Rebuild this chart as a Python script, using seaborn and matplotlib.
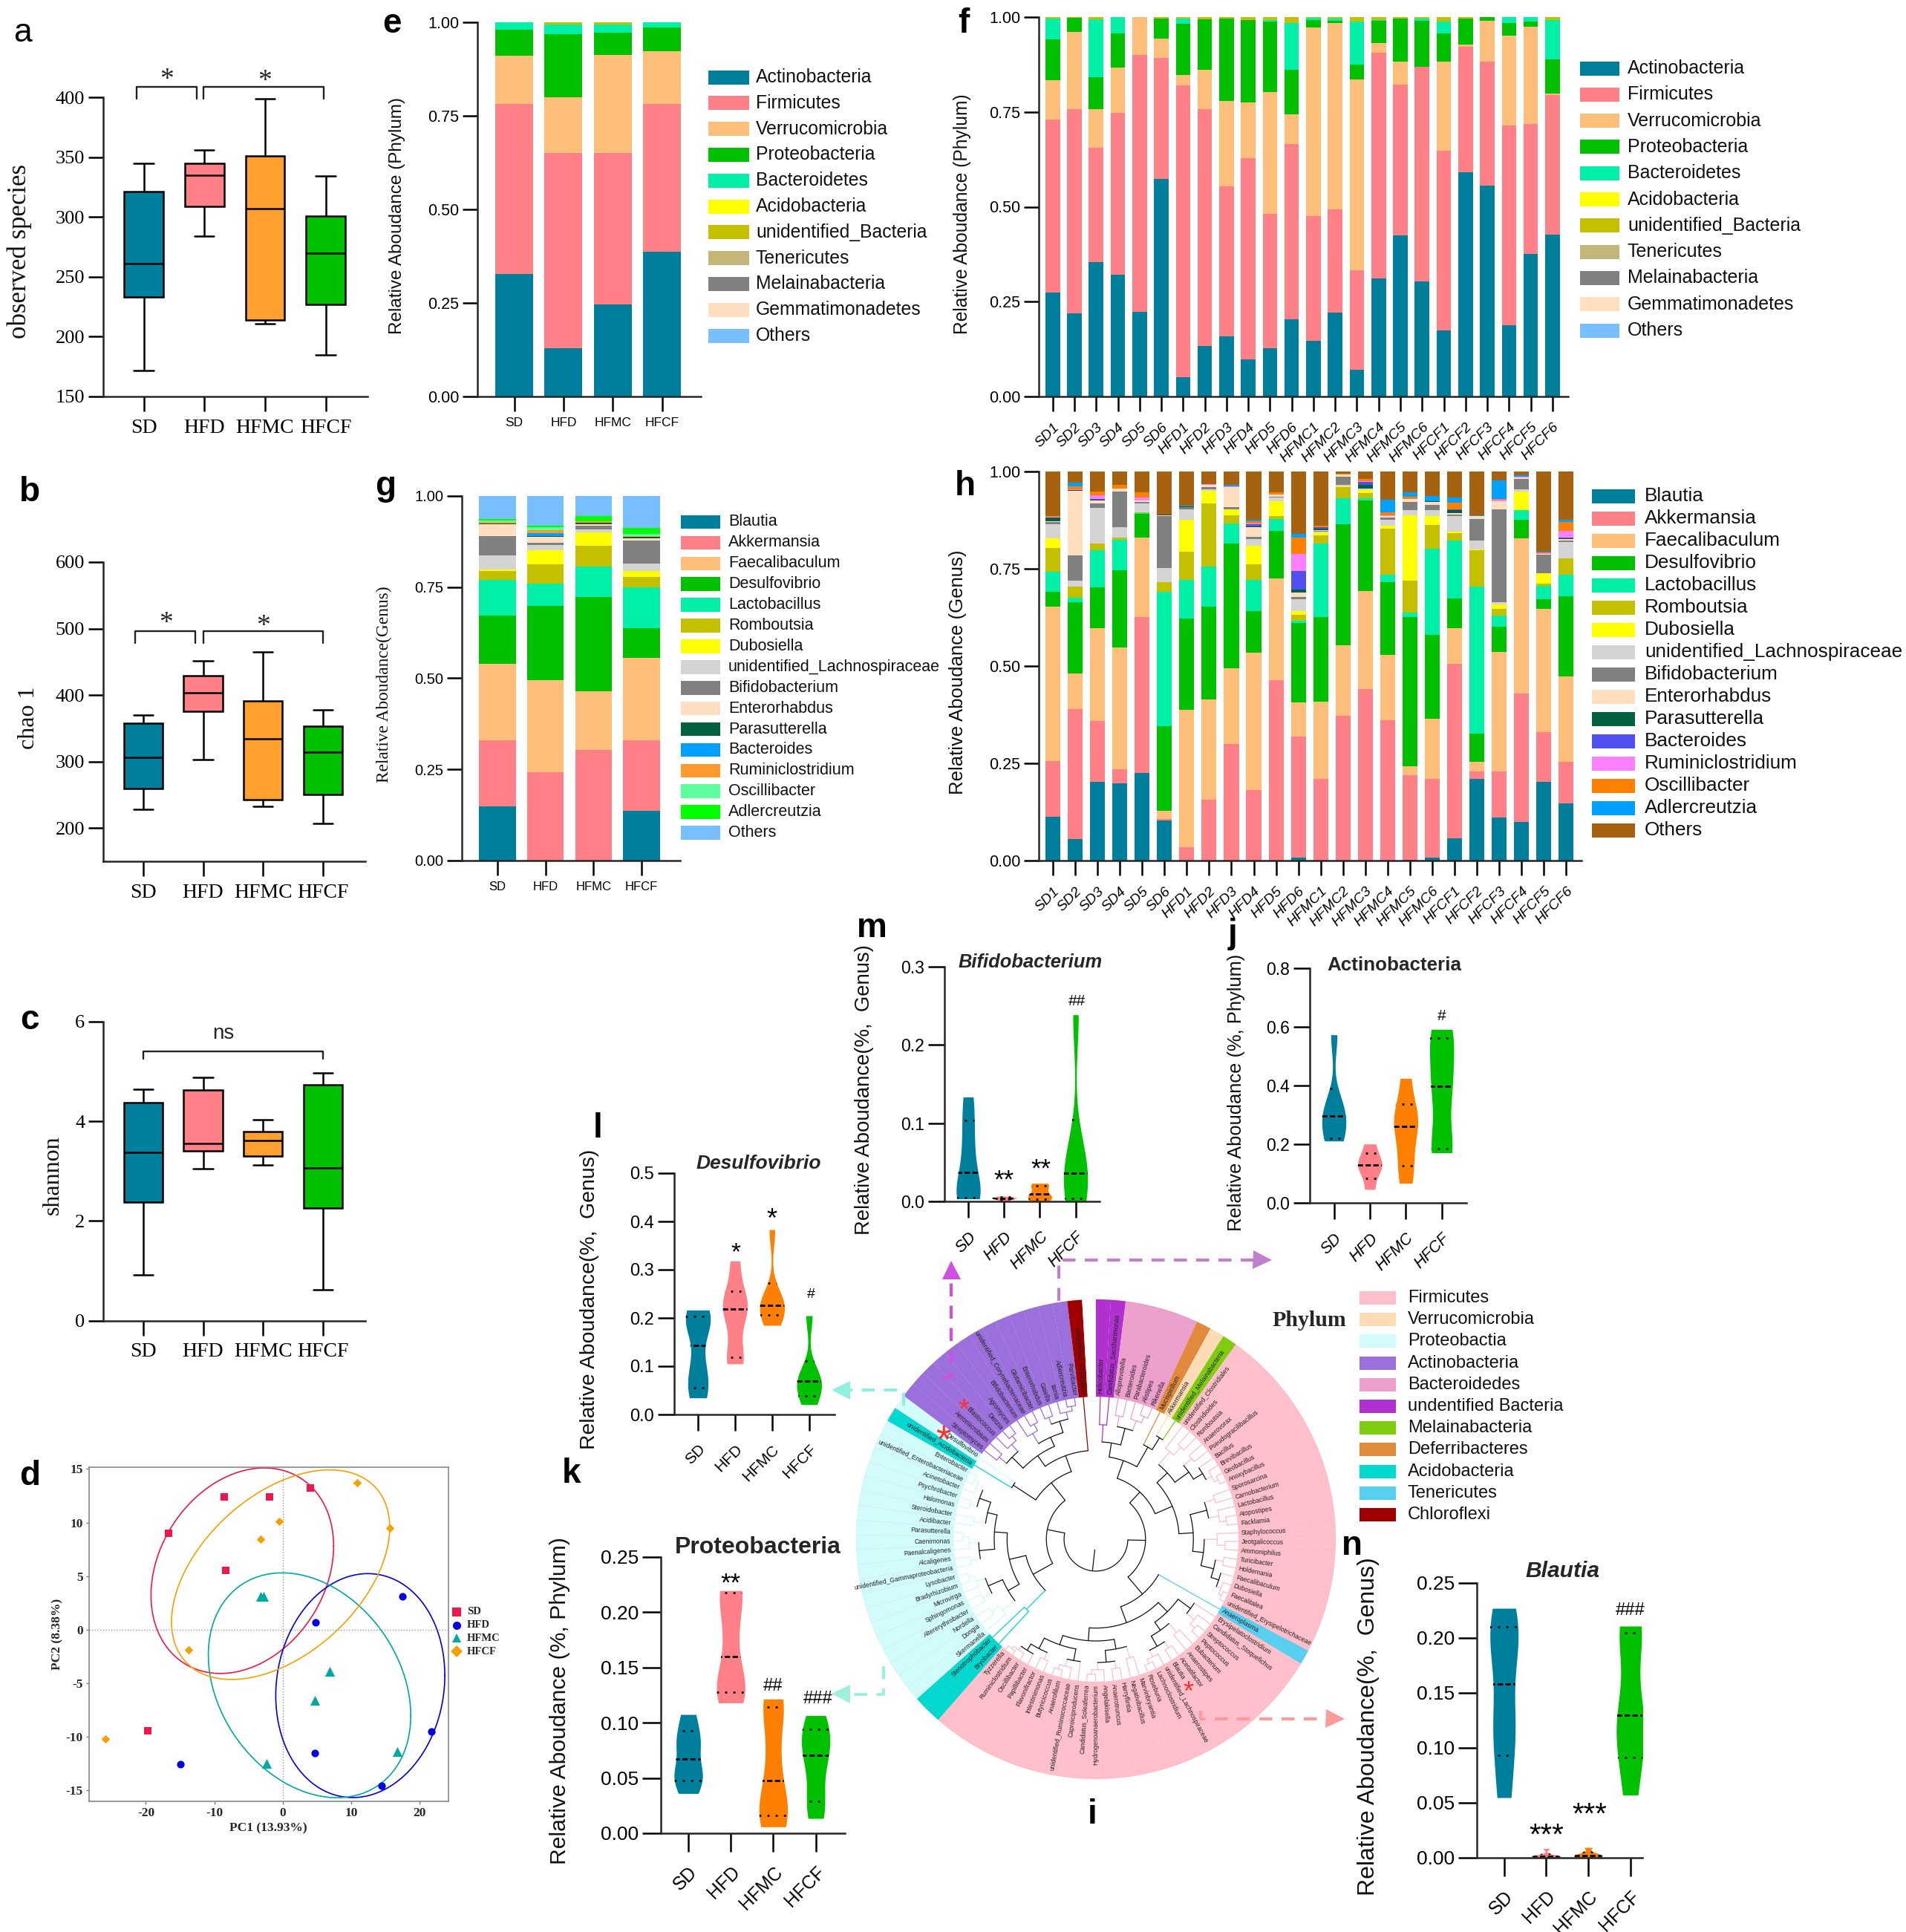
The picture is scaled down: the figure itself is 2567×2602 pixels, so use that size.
import numpy as np
import pandas as pd
import matplotlib
matplotlib.use("Agg")
import matplotlib.pyplot as plt
from matplotlib.patches import Rectangle
import seaborn as sns

W, H = 2567, 2602
DPI = 100
SANS = "Liberation Sans"
SERIF = "Liberation Serif"

groups = ["SD", "HFD", "HFMC", "HFCF"]
samples_f = ["SD1", "SD2", "SD3", "SD4", "SD5", "SD6", "HFD1", "HFD2", "HFD3", "HFD4", "HFD5", "HFD6",
             "HFMC1", "HFMC2", "HFMC3", "HFMC4", "HFMC5", "HFMC6", "HFCF1", "HFCF2", "HFCF3", "HFCF4", "HFCF5", "HFCF6"]

box_colors = ["#007f9d", "#ff8086", "#ffa030", "#00c000"]
violin_colors = ["#007f9d", "#ff8086", "#ff8000", "#00c000"]

# box plots: min, q1, median, q3, max
a_sd = [172, 233, 261, 321, 345]
a_hfd = [284, 309, 335, 345, 356]
a_hfmc = [211, 214, 307, 351, 399]
a_hfcf = [185, 227, 270, 301, 334]

b_sd = [228, 259, 306, 358, 370]
b_hfd = [303, 376, 403, 429, 451]
b_hfmc = [233, 243, 334, 391, 465]
b_hfcf = [207, 250, 314, 353, 378]

c_sd = [0.92, 2.38, 3.38, 4.37, 4.65]
c_hfd = [3.05, 3.40, 3.55, 4.63, 4.88]
c_hfmc = [3.13, 3.30, 3.62, 3.80, 4.03]
c_hfcf = [0.62, 2.26, 3.07, 4.73, 4.97]

# PCoA points
d_x_sd = [-16.7, -8.5, -1.9, 4.0, -8.3, -19.7]
d_y_sd = [9.0, 12.4, 12.4, 13.2, 5.55, -9.45]
d_x_hfd = [17.5, 4.8, 21.8, 4.75, -15.0, 14.5]
d_y_hfd = [3.1, 0.65, -9.5, -11.5, -12.6, -14.6]
d_x_hfmc = [-3.2, -2.8, 6.9, 4.65, 16.8, -2.3]
d_y_hfmc = [3.1, 3.1, -3.9, -6.6, -11.4, -12.5]
d_x_hfcf = [10.9, 15.7, -0.5, -3.2, -13.8, -25.9]
d_y_hfcf = [13.7, 9.5, 10.1, 8.45, -1.9, -10.2]
d_colors = ["#f0174e", "#0000e0", "#00a99d", "#f9a000"]
d_markers = ["s", "o", "^", "D"]
d_sizes = [54, 54, 90, 34]
# ellipses: centre x, centre y, half width, half height, correlation
d_ell_sd = [-5.9, 5.5, 13.35, 9.6, 0.24]
d_ell_hfd = [11.35, -5.23, 12.36, 10.46, 0.09]
d_ell_hfmc = [3.93, -5.2, 14.8, 10.5, -0.27]
d_ell_hfcf = [-0.3, 5.13, 15.95, 9.79, 0.45]

# stacked bars: each list is the top edge of that layer
e_act = [0.327, 0.128, 0.246, 0.386]
e_fir = [0.782, 0.651, 0.650, 0.781]
e_ver = [0.911, 0.800, 0.913, 0.922]
e_pro = [0.981, 0.969, 0.973, 0.986]
e_bac = [1.0, 0.995, 0.995, 1.0]
e_uni = [1.0, 1.0, 1.0, 1.0]

f_act = [.274, .219, .355, .321, .223, .573, .051, .134, .159, .097, .127, .203, .147, .221, .071, .311, .424, .304, .174, .591, .556, .188, .376, .426]
f_fir = [.730, .758, .656, .747, .901, .893, .819, .758, .554, .628, .481, .666, .476, .494, .332, .906, .821, .869, .648, .921, .883, .714, .718, .795]
f_ver = [.833, .961, .757, .867, 1.0, .944, .848, .861, .778, .774, .802, .744, .972, .984, .835, .931, .882, .869, .883, .927, .990, .952, .974, .798]
f_pro = [.942, .998, .841, .957, 1.0, .996, .982, .995, .997, .993, .989, .862, .993, .991, .874, .990, .997, .991, .957, .997, 1.0, .985, .989, .889]
f_bac = [.997, .998, .994, 1.0, 1.0, .997, .996, .995, .997, .993, .992, .985, .998, .997, .989, .992, .997, .996, .988, .997, 1.0, 1.0, 1.0, .993]
f_uni = [1.0] * 24

g_bla = [.149, 0, 0, .136]
g_akk = [.329, .242, .304, .330]
g_fae = [.540, .494, .464, .556]
g_des = [.672, .699, .724, .638]
g_lac = [.770, .760, .807, .750]
g_rom = [.794, .813, .864, .778]
g_dub = [.799, .851, .900, .794]
g_uni = [.837, .866, .909, .814]
g_bif = [.890, .871, .919, .877]
g_ent = [.922, .888, .923, .884]
g_par = [.924, .890, .927, .887]
g_bac = [.924, .898, .927, .887]
g_rum = [.929, .907, .930, .891]
g_osc = [.932, .915, .931, .897]
g_adl = [.937, .918, .944, .912]
g_oth = [1.0, 1.0, 1.0, 1.0]

h_bla = [.112, .055, .202, .199, .225, .103, 0, 0, 0, 0, 0, .008, 0, 0, 0, 0, .002, .008, .057, .209, .111, .099, .202, .146]
h_akk = [.256, .389, .359, .235, .626, .106, .034, .156, .300, .181, .463, .318, .210, .372, .441, .361, .219, .210, .506, .229, .229, .429, .331, .253]
h_fae = [.653, .481, .597, .548, .830, .127, .388, .415, .495, .535, .726, .407, .409, .554, .693, .529, .243, .364, .598, .253, .536, .829, .647, .474]
h_des = [.691, .664, .702, .747, .891, .345, .623, .652, .814, .642, .848, .610, .626, .865, .926, .715, .626, .581, .673, .326, .601, .875, .671, .679]
h_lac = [.742, .675, .798, .825, .894, .690, .722, .756, .866, .721, .877, .617, .815, .931, .931, .735, .638, .801, .822, .705, .630, .900, .707, .735]
h_rom = [.804, .705, .814, .831, .895, .715, .793, .918, .888, .762, .886, .632, .835, .959, .945, .854, .719, .863, .842, .798, .646, .901, .711, .776]
h_dub = [.829, .705, .815, .831, .895, .715, .876, .950, .903, .809, .924, .642, .844, .962, .952, .860, .888, .885, .845, .799, .658, .948, .739, .777]
h_uni = [.865, .720, .907, .856, .918, .752, .903, .954, .903, .827, .934, .672, .846, .966, .957, .875, .900, .901, .885, .823, .665, .954, .739, .818]
h_bif = [.871, .784, .918, .948, .921, .885, .909, .959, .909, .832, .935, .677, .848, .986, .957, .881, .922, .915, .889, .877, .903, .980, .786, .823]
h_ent = [.872, .951, .925, .956, .925, .887, .909, .966, .960, .857, .940, .688, .850, .992, .957, .886, .929, .921, .893, .885, .923, .984, .789, .827]
h_par = [.881, .952, .927, .956, .925, .889, .911, .966, .960, .859, .940, .697, .854, .992, .966, .886, .929, .923, .901, .886, .923, .984, .789, .829]
h_bac = [.881, .952, .930, .956, .925, .889, .911, .966, .960, .864, .940, .744, .856, .992, .973, .886, .929, .923, .903, .886, .924, .985, .789, .831]
h_rum = [.884, .955, .939, .957, .933, .890, .911, .967, .961, .866, .941, .788, .857, .992, .975, .888, .930, .923, .903, .886, .928, .986, .790, .848]
h_osc = [.885, .961, .948, .965, .946, .890, .911, .967, .961, .872, .946, .830, .860, .995, .980, .895, .935, .924, .920, .886, .929, .986, .792, .871]
h_adl = [.886, .971, .949, .965, .947, .890, .912, .967, .965, .875, .947, .839, .860, .995, .980, .928, .947, .937, .934, .887, .978, .990, .794, .876]
h_oth = [1.0] * 24

phylum_names = ["Actinobacteria", "Firmicutes", "Verrucomicrobia", "Proteobacteria", "Bacteroidetes", "Acidobacteria",
                "unidentified_Bacteria", "Tenericutes", "Melainabacteria", "Gemmatimonadetes", "Others"]
phylum_colors = ["#007f9d", "#ff8086", "#ffbf7a", "#00c000", "#00f0a8", "#ffff00", "#c4c000", "#c4b678", "#808080", "#ffdfc0", "#78bfff"]
genus_names = ["Blautia", "Akkermansia", "Faecalibaculum", "Desulfovibrio", "Lactobacillus", "Romboutsia", "Dubosiella",
               "unidentified_Lachnospiraceae", "Bifidobacterium", "Enterorhabdus", "Parasutterella", "Bacteroides",
               "Ruminiclostridium", "Oscillibacter", "Adlercreutzia", "Others"]
genus_colors_g = ["#007f9d", "#ff8086", "#ffbf7a", "#00c000", "#00f0a8", "#c4c000", "#ffff00", "#d4d4d4", "#808080", "#ffdfc0",
                  "#006040", "#00a0ff", "#ff9a2e", "#5cff9c", "#00ff00", "#78bfff"]
genus_colors_h = ["#007f9d", "#ff8086", "#ffbf7a", "#00c000", "#00f0a8", "#c4c000", "#ffff00", "#d4d4d4", "#808080", "#ffdfc0",
                  "#006040", "#5050f0", "#ff80ff", "#ff8000", "#00a0ff", "#a6620e"]

# violins: six samples per group
k_sd = [.036, .0515, .056, .078, .0876, .1075]
k_hfd = [.118, .1313, .14, .18, .2175, .2196]
k_hfmc = [.0058, .0197, .0276, .0676, .112, .1215]
k_hfcf = [.0134, .0342, .062, .0786, .0897, .1065]

l_sd = [.0344, .0617, .1026, .1826, .198, .2164]
l_hfd = [.105, .1223, .21, .228, .2353, .318]
l_hfmc = [.1846, .2141, .22, .2312, .235, .383]
l_hfcf = [.0205, .0445, .06, .0774, .08, .2046]

n_sd = [.0545, .1056, .13, .1854, .2044, .2268]
n_hfd = [0, .0002, .0008, .0012, .002, .0083]
n_hfmc = [0, .0003, .0014, .0026, .004, .0092]
n_hfcf = [.0568, .1021, .115, .144, .2024, .2106]

m_sd = [.0032, .005, .02, .0546, .0935, .1335]
m_hfd = [0, .0024, .0034, .0042, .005, .0066]
m_hfmc = [0, .0043, .0065, .0125, .0193, .0231]
m_hfcf = [.0006, .0053, .03, .0422, .06, .2386]

j_sd = [.2107, .222, .28, .31, .33, .5724]
j_hfd = [.0455, .0949, .12, .138, .1602, .2006]
j_hfmc = [.0666, .1463, .23, .291, .3083, .424]
j_hfcf = [.1703, .1883, .36, .436, .5515, .591]

# circular tree leaves, clockwise from the top gap
tree_unident = ["Helicobacter", "Candidatus_Saccharimonas"]
tree_bacteroidedes = ["Alloprevotella", "Bacteroides", "Parabacteroides", "Alistipes", "Rikenella"]
tree_deferri = ["Mucispirillum"]
tree_verruco = ["Akkermansia"]
tree_melaina = ["unidentified_Melainabacteria"]
tree_firm_a = ["unidentified_Clostridiales", "Clostridioides", "Romboutsia", "Anaerovorax", "Pseudogracilibacillus", "Bacillus",
               "Brevibacillus", "Geobacillus", "Anoxybacillus", "Sporosarcina", "Carnobacterium", "Lactobacillus", "Atopostipes",
               "Facklamia", "Staphylococcus", "Jeotgalicoccus", "Ammoniphilus", "Turicibacter", "Holdemania", "Faecalibaculum",
               "Dubosiella", "Faecalitalea", "unidentified_Erysipelotrichaceae"]
tree_teneri = ["Anaeroplasma"]
tree_firm_b = ["Erysipelatoclostridium", "Candidatus_Stoquefichus", "Streptococcus", "Peptococcus", "Eubacterium", "Anaerostipes",
               "Acetatifactor", "Blautia", "unidentified_Lachnospiraceae", "Lachnoclostridium", "Roseburia", "Marvinbryantia",
               "Negativibacillus", "Harryflintia", "Anaerotruncus", "Angelakisella", "Hydrogenoanaerobacterium",
               "Candidatus_Soleaferrea", "Caproiciproducens", "unidentified_Ruminococcaceae", "Anaerofilum", "Butyricicoccus",
               "Intestinimonas", "Flavonifractor", "Papillibacter", "Oscillibacter", "Ruminiclostridium", "Tyzzerella"]
tree_acido_a = ["Bryobacter", "Stenotrophobacter"]
tree_proteo_a = ["Skermanella", "Dongia", "Nordella", "Altererythrobacter", "Sphingomonas", "Microvirga", "Bradyrhizobium", "Lysobacter",
                 "unidentified_Gammaproteobacteria", "Alcaligenes", "Paenalcaligenes", "Caenimonas", "Parasutterella", "Acidibacter",
                 "Steroidobacter", "Halomonas", "Psychrobacter", "Acinetobacter", "unidentified_Enterobacteriaceae", "Enterobacter"]
tree_acido_b = ["unidentified_Acidobacteria"]
tree_proteo_b = ["Desulfovibrio"]
tree_actino = ["Streptomyces", "Aeromicrobium", "Blastococcus", "Dietzia", "Agromyces", "Bifidobacterium",
               "unidentified_Corynebacteriaceae", "Glutamicibacter", "Enterorhabdus", "Gaiella", "Iamia", "Adlercreutzia", "Parvibacter"]
tree_chloro = ["unidentified_Chloroflexi"]
# red stars: leaf they sit by, radius in the ring, font size
tree_star_leaves = ["Blastococcus", "Desulfovibrio", "Blautia"]
tree_star_radius = [0.79, 0.775, 0.725]
tree_star_size = [28, 38, 26]

tree_legend = ["Firmicutes", "Verrucomicrobia", "Proteobactia", "Actinobacteria", "Bacteroidedes", "undentified Bacteria",
               "Melainabacteria", "Deferribacteres", "Acidobacteria", "Tenericutes", "Chloroflexi"]
tree_colors = ["#ffc0cb", "#fddcb5", "#d2fbfb", "#9c70dc", "#eea0cc", "#b030d0", "#80cc10", "#e28a3c", "#00d8d0", "#58cfee", "#a00000"]

sns.set_theme(style="ticks")
plt.rcParams["font.family"] = [SANS, "DejaVu Sans"]
plt.rcParams["axes.linewidth"] = 1.8

fig = plt.figure(figsize=(W / DPI, H / DPI), dpi=DPI, facecolor="white")
ov = fig.add_axes([0, 0, 1, 1], zorder=10)
ov.set_xlim(0, W)
ov.set_ylim(H, 0)
ov.axis("off")


def px_axes(left, top, right, bottom):
    ax = fig.add_axes([left / W, 1 - bottom / H, (right - left) / W, (bottom - top) / H])
    ax.patch.set_alpha(0)
    return ax


def finish_axes(ax, left, right, first, step, ylim, yticks, yfmt, yfont, ysize, tick_px=20):
    ax.set_xlim((left - first) / step, (right - first) / step)
    ax.set_ylim(*ylim)
    ax.set_yticks(yticks)
    ax.set_yticklabels([yfmt.format(v) for v in yticks], fontsize=ysize, family=yfont)
    ax.set_xlabel("")
    ax.set_ylabel("")
    sns.despine(ax=ax)
    ax.tick_params(axis="both", length=tick_px * 0.72, width=1.8, color="black", labelcolor="black")


def long_form(arrays):
    rows = [(g, v) for g, vals in zip(groups, arrays) for v in vals]
    return pd.DataFrame(rows, columns=["group", "value"])


def box_panel(rect, first, step, arrays, ylim, yticks):
    left, top, right, bottom = rect
    ax = px_axes(*rect)
    sns.boxplot(data=long_form(arrays), x="group", y="value", hue="group", palette=box_colors, saturation=1,
                width=0.645, whis=(0, 100), linecolor="black", linewidth=1.8, fliersize=0, legend=False, ax=ax)
    finish_axes(ax, left, right, first, step, ylim, yticks, "{:d}", SERIF, 19)
    ax.set_xticks(range(4))
    ax.set_xticklabels(groups, fontsize=20, family=SERIF)
    ax.tick_params(axis="x", pad=7)
    return ax


def bracket(ax, x0, x1, y_top, y_low):
    ax.plot([x0, x0, x1, x1], [y_low, y_top, y_top, y_low], color="#222222", lw=1.7, clip_on=False)


def stack_panel(rect, first, step, names, layers, colors, bar_w, ticksize, rotate, ysize=15.5):
    left, top, right, bottom = rect
    ax = px_axes(*rect)
    prev = np.zeros(len(names))
    for tops, col in zip(layers, colors):
        tops = np.asarray(tops, dtype=float)
        sns.barplot(x=names, y=np.clip(tops - prev, 0, None), bottom=prev, color=col, saturation=1, width=bar_w,
                    errorbar=None, linewidth=0, ax=ax)
        prev = np.maximum(prev, tops)
    finish_axes(ax, left, right, first, step, (0, 1), [0, 0.25, 0.5, 0.75, 1.0], "{:.2f}", SANS, ysize)
    ax.set_xticks(range(len(names)))
    if rotate:
        ax.set_xticklabels(names, fontsize=ticksize, rotation=45, ha="right", rotation_mode="anchor", style="italic")
        ax.tick_params(axis="x", pad=9)
    else:
        ax.set_xticklabels(names, fontsize=ticksize)
        ax.tick_params(axis="x", pad=6)
    return ax


def violin_panel(rect, first, step, arrays, ylim, yticks, yfmt, ysize, xsize, italic, tick_px=22):
    left, top, right, bottom = rect
    ax = px_axes(*rect)
    sns.violinplot(data=long_form(arrays), x="group", y="value", hue="group", palette=violin_colors, saturation=1,
                   density_norm="width", width=0.67, cut=0, inner=None, bw_adjust=0.7, gridsize=200, linewidth=0,
                   legend=False, ax=ax)
    bodies = list(ax.collections)
    for i, vals in enumerate(arrays):
        q1, med, q3 = np.percentile(vals, [25, 50, 75], method="weibull")
        for val, dash in ((q1, (1.0, 3.0)), (med, (2.6, 1.2)), (q3, (1.0, 3.0))):
            line, = ax.plot([i - 0.34, i + 0.34], [val, val], color="black", lw=2.0, ls=(0, dash), solid_capstyle="butt")
            line.set_clip_path(bodies[i].get_paths()[0], ax.transData)
    finish_axes(ax, left, right, first, step, ylim, yticks, yfmt, SANS, ysize, tick_px)
    ax.set_xticks(range(4))
    ax.set_xticklabels(groups, fontsize=xsize, rotation=45, ha="right", rotation_mode="anchor",
                       style="italic" if italic else "normal")
    ax.tick_params(axis="x", pad=11)
    return ax


def sig(ax, x, y, text, size):
    shift = -0.24 * size if "*" in text else 0
    ax.annotate(text, (x, y), xytext=(0, shift), textcoords="offset points", ha="center", va="center",
                fontsize=size, color="black", annotation_clip=False)


def swatch_legend(names, colors, x, y0, row, sw, sh, tx, size):
    for i, (name, col) in enumerate(zip(names, colors)):
        y = y0 + i * row
        ov.add_patch(Rectangle((x, y - sh / 2), sw, sh, facecolor=col, edgecolor="none"))
        ov.text(tx, y, name, fontsize=size, va="center", ha="left", color="#111111")


def rot_label(x, y, text, size, family=SANS):
    ov.text(x, y, text, rotation=90, ha="center", va="center", fontsize=size, family=family, color="#111111")


# a, b, c box plots
ax_a = box_panel((139, 131, 495, 534), 193.5, 81.7, [a_sd, a_hfd, a_hfmc, a_hfcf], (150, 400), [150, 200, 250, 300, 350, 400])
bracket(ax_a, -0.12, 0.87, 408.7, 399)
bracket(ax_a, 0.99, 2.97, 408.7, 399)
ov.text(225, 108, "*", fontsize=27, family=SERIF, ha="center", va="center")
ov.text(357, 110, "*", fontsize=27, family=SERIF, ha="center", va="center")

ax_b = box_panel((139, 757, 492, 1160), 192.7, 80.8, [b_sd, b_hfd, b_hfmc, b_hfcf], (150, 600), [200, 300, 400, 500, 600])
bracket(ax_b, -0.13, 0.87, 496, 478)
bracket(ax_b, 1.0, 3.0, 496, 478)
ov.text(224, 840, "*", fontsize=27, family=SERIF, ha="center", va="center")
ov.text(355, 844, "*", fontsize=27, family=SERIF, ha="center", va="center")

ax_c = box_panel((139, 1376, 492, 1778.5), 192.7, 80.8, [c_sd, c_hfd, c_hfmc, c_hfcf], (0, 6), [0, 2, 4, 6])
bracket(ax_c, 0, 3.0, 5.40, 5.25)
ov.text(301, 1392, "ns", fontsize=20, ha="center", va="center")

rot_label(26, 338, "observed species", 25, SERIF)
rot_label(38, 967, "chao 1", 23, SERIF)
rot_label(71, 1583, "shannon", 23, SERIF)

# d PCoA
ax_d = px_axes(120, 1976, 603.6, 2426)
d_xs = [d_x_sd, d_x_hfd, d_x_hfmc, d_x_hfcf]
d_ys = [d_y_sd, d_y_hfd, d_y_hfmc, d_y_hfcf]
ax_d.axhline(0, color="#999999", lw=1, ls=":")
ax_d.axvline(0, color="#999999", lw=1, ls=":")
for xs, ys, col, mk, size in zip(d_xs, d_ys, d_colors, d_markers, d_sizes):
    sns.scatterplot(x=xs, y=ys, color=col, marker=mk, s=size, linewidth=0, ax=ax_d, zorder=3)
t = np.linspace(0, 2 * np.pi, 240)
for (cx, cy, rx, ry, rho), col in zip([d_ell_sd, d_ell_hfd, d_ell_hfmc, d_ell_hfcf], d_colors):
    ax_d.plot(cx + rx * np.cos(t), cy + ry * (rho * np.cos(t) + np.sqrt(1 - rho ** 2) * np.sin(t)), color=col, lw=1.2)
ax_d.set_xlim(-28.3, 24.2)
ax_d.set_ylim(-16.04, 15.17)
ax_d.set_xticks([-20, -10, 0, 10, 20])
ax_d.set_yticks([-15, -10, -5, 0, 5, 10, 15])
ax_d.set_xticklabels(["-20", "-10", "0", "10", "20"], family=SERIF, fontweight="bold", fontsize=12.5)
ax_d.set_yticklabels(["-15", "-10", "-5", "0", "5", "10", "15"], family=SERIF, fontweight="bold", fontsize=12.5)
ax_d.set_xlabel("PC1 (13.93%)", family=SERIF, fontweight="bold", fontsize=12.5, labelpad=3)
ax_d.set_ylabel("PC2 (8.38%)", family=SERIF, fontweight="bold", fontsize=12.5, labelpad=2)
ax_d.tick_params(length=3, width=1, color="#777777", pad=3)
for sp in ax_d.spines.values():
    sp.set_color("#888888")
    sp.set_linewidth(1.2)
for i, (g, col, mk) in enumerate(zip(groups, d_colors, d_markers)):
    y = 2171 + i * 17.7
    ov.plot([615], [y], marker=mk, color=col, ms=8, mew=0, ls="none")
    ov.text(629, y, g, family=SERIF, fontweight="bold", fontsize=10.5, va="center")

# e, f, g, h stacked bars
stack_panel((643, 30, 944, 534), 692.6, 66.3, groups, [e_act, e_fir, e_ver, e_pro, e_bac, e_uni],
            [phylum_colors[i] for i in (0, 1, 2, 3, 4, 6)], 0.77, 12.5, False)
swatch_legend(phylum_names, phylum_colors, 954, 104, 34.8, 55, 19, 1018, 17.8)
rot_label(535, 291, "Relative Aboudance (Phylum)", 17.5)

stack_panel((1399, 23, 2112, 534), 1417.7, 29.27, samples_f, [f_act, f_fir, f_ver, f_pro, f_bac, f_uni],
            [phylum_colors[i] for i in (0, 1, 2, 3, 4, 6)], 0.67, 14, True)
swatch_legend(phylum_names, phylum_colors, 2128, 92, 35.3, 53, 19, 2192, 18)
rot_label(1296, 288, "Relative Aboudance (Phylum)", 17.7)

stack_panel((622, 668, 916, 1159), 670, 64.7, groups,
            [g_bla, g_akk, g_fae, g_des, g_lac, g_rom, g_dub, g_uni, g_bif, g_ent, g_par, g_bac, g_rum, g_osc, g_adl, g_oth],
            genus_colors_g, 0.765, 12, False, ysize=14.5)
swatch_legend(genus_names, genus_colors_g, 917, 703, 27.9, 53, 18.6, 981, 15.5)
rot_label(517, 922, "Relative Aboudance(Genus)", 16.8, SERIF)

stack_panel((1399, 635, 2130, 1159), 1418, 30.06, samples_f,
            [h_bla, h_akk, h_fae, h_des, h_lac, h_rom, h_dub, h_uni, h_bif, h_ent, h_par, h_bac, h_rum, h_osc, h_adl, h_oth],
            genus_colors_h, 0.67, 14, True)
swatch_legend(genus_names, genus_colors_h, 2144, 668, 30.0, 58, 19, 2215, 18.8)
rot_label(1290, 905, "Relative Aboudance (Genus)", 18.5)

# j, k, l, m, n violins
ax_l = violin_panel((907.7, 1580, 1124, 1905), 940, 49.9, [l_sd, l_hfd, l_hfmc, l_hfcf], (0, 0.5),
                    [0, .1, .2, .3, .4, .5], "{:.1f}", 17, 15, False)
sig(ax_l, 1.03, 0.347, "*", 24)
sig(ax_l, 2.0, 0.415, "*", 26)
sig(ax_l, 3.05, 0.2485, "#", 14)
ov.text(1021.7, 1567, "Desulfovibrio", fontsize=19, fontweight="bold", style="italic", ha="center", va="center")
rot_label(794, 1750, "Relative Aboudance(%,  Genus)", 20.4)

ax_k = violin_panel((890, 2097, 1138, 2469), 927, 57.2, [k_sd, k_hfd, k_hfmc, k_hfcf], (0, 0.25),
                    [0, .05, .10, .15, .20, .25], "{:.2f}", 19, 17.7, False, tick_px=25)
sig(ax_k, 1.0, 0.231, "**", 25)
sig(ax_k, 2.0, 0.1328, "##", 17)
sig(ax_k, 3.05, 0.1215, "###", 17)
ov.text(1020.7, 2084, "Proteobacteria", fontsize=23, fontweight="bold", ha="center", va="center")
rot_label(754, 2291, "Relative Aboudance (%, Phylum)", 21.7)

ax_n = violin_panel((1989, 2131.7, 2212, 2501.7), 2025.7, 56.7, [n_sd, n_hfd, n_hfmc, n_hfcf], (0, 0.25),
                    [0, .05, .10, .15, .20, .25], "{:.2f}", 19, 17.7, False, tick_px=25)
sig(ax_n, 1.0, 0.0264, "***", 29)
sig(ax_n, 2.03, 0.045, "***", 29)
sig(ax_n, 3.0, 0.225, "###", 17)
ov.text(2104, 2116, "Blautia", fontsize=21.6, fontweight="bold", style="italic", ha="center", va="center")
rot_label(1843, 2325, "Relative Aboudance(%,  Genus)", 23)

ax_m = violin_panel((1272, 1302, 1481, 1618), 1304, 48.2, [m_sd, m_hfd, m_hfmc, m_hfcf], (0, 0.3),
                    [0, .1, .2, .3], "{:.1f}", 16.5, 15.5, True)
sig(ax_m, 1.0, 0.0348, "**", 25)
sig(ax_m, 2.03, 0.049, "**", 25)
sig(ax_m, 3.03, 0.256, "##", 15)
ov.text(1388, 1296, "Bifidobacterium", fontsize=18.4, fontweight="bold", style="italic", ha="center", va="center")
rot_label(1164, 1468, "Relative Aboudance(%,  Genus)", 19.8)

ax_j = violin_panel((1764, 1303.7, 1975, 1620), 1796.5, 48.4, [j_sd, j_hfd, j_hfmc, j_hfcf], (0, 0.8),
                    [0, .2, .4, .6, .8], "{:.1f}", 16.5, 15.5, True)
sig(ax_j, 3.0, 0.635, "#", 15)
ov.text(1877.4, 1300, "Actinobacteria", fontsize=18.7, fontweight="bold", ha="center", va="center")
rot_label(1665, 1471, "Relative Aboudance (%, Phylum)", 18.4)

# i circular tree
runs = [(tree_unident, 5), (tree_bacteroidedes, 4), (tree_deferri, 7), (tree_verruco, 1), (tree_melaina, 6),
        (tree_firm_a, 0), (tree_teneri, 9), (tree_firm_b, 0), (tree_acido_a, 8), (tree_proteo_a, 2), (tree_acido_b, 8),
        (tree_proteo_b, 2), (tree_actino, 3), (tree_chloro, 10)]
leaf_names = [n for names, _ in runs for n in names]
leaf_phylum = [p for names, p in runs for _ in names]
leaf_colors = [tree_colors[p] for p in leaf_phylum]
n_leaves = len(leaf_names)
GAP = 0.93
R_IN = 192 / 323
ax_i = px_axes(1153, 1750, 1799, 2396)
ax_i.pie([1] * n_leaves + [GAP], colors=leaf_colors + ["white"], startangle=90, counterclock=False, radius=1,
         wedgeprops=dict(width=1 - R_IN, linewidth=0.5, edgecolor=(0, 0, 0, 0.04)))
ax_i.set_xlim(-1, 1)
ax_i.set_ylim(-1, 1)
leaf_step = 2 * np.pi / (n_leaves + GAP)


def leaf_angle(i):
    return np.pi / 2 - (i + 0.5) * leaf_step


def radial(angle, r0, r1, col, lw):
    ax_i.plot([r0 * np.cos(angle), r1 * np.cos(angle)], [r0 * np.sin(angle), r1 * np.sin(angle)], color=col, lw=lw,
              solid_capstyle="round")


def clade(lo, hi, r_parent):
    size = hi - lo
    if size == 1:
        angle = leaf_angle(lo)
        radial(angle, r_parent, R_IN, leaf_colors[lo], 0.9)
        return angle
    cuts = [i for i in range(lo + 1, hi) if leaf_phylum[i] != leaf_phylum[i - 1]]
    mid = min(cuts, key=lambda c: abs(c - (lo + hi) / 2)) if cuts else lo + max(1, int(size * 0.42))
    r_node = r_parent + (R_IN - r_parent) * (0.16 if size > 30 else 0.24 if size > 6 else 0.38)
    col = "#111111" if cuts or size > 3 else leaf_colors[lo]
    a1 = clade(lo, mid, r_node)
    a2 = clade(mid, hi, r_node)
    arc = np.linspace(a1, a2, max(2, int(abs(a2 - a1) * 30)))
    ax_i.plot(r_node * np.cos(arc), r_node * np.sin(arc), color=col, lw=0.9)
    angle = (a1 + a2) / 2
    if r_parent > 0:
        radial(angle, r_parent, r_node, col, 0.9)
    return angle


clade(0, n_leaves, 0.045)

for i, name in enumerate(leaf_names):
    ang = leaf_angle(i)
    deg = np.degrees(ang)
    x, y = (R_IN + 0.012) * np.cos(ang), (R_IN + 0.012) * np.sin(ang)
    if np.cos(ang) >= 0:
        ax_i.text(x, y, name, rotation=deg, rotation_mode="anchor", ha="left", va="center", fontsize=6.2, color="#222222")
    else:
        ax_i.text(x, y, name, rotation=deg + 180, rotation_mode="anchor", ha="right", va="center", fontsize=6.2, color="#222222")

for name, rs, size in zip(tree_star_leaves, tree_star_radius, tree_star_size):
    ang = leaf_angle(leaf_names.index(name))
    ax_i.annotate("*", (rs * np.cos(ang), rs * np.sin(ang)), xytext=(0, -0.24 * size), textcoords="offset points",
                  color="#ff3030", fontsize=size, ha="center", va="center")

swatch_legend(tree_legend, tree_colors, 1831, 1748, 29.2, 49, 18, 1896, 17)
ov.text(1763.5, 1778, "Phylum", family=SERIF, fontweight="bold", fontsize=21.5, ha="center", va="center")

# dashed arrows between the tree and the violins
arrow_paths = [
    ([1270, 1281, 1281], [1855, 1855, 1720], "#d050e0", (1281, 1710), "^"),
    ([1425.5, 1425.5, 1690], [1752, 1697, 1697], "#c080cc", (1700, 1697), ">"),
    ([1217, 1217, 1140], [1893, 1872, 1872], "#90f0dc", (1132, 1872), "<"),
    ([1190, 1190, 1140], [2244, 2282, 2282], "#a0eedc", (1132, 2281), "<"),
    ([1617, 1617, 1790], [2304, 2315, 2315], "#ff9a9a", (1798, 2315), ">"),
]
for xs, ys, col, tip, mk in arrow_paths:
    ov.plot(xs, ys, color=col, lw=3, ls=(0, (4.2, 3.0)), solid_capstyle="butt")
    ov.plot([tip[0]], [tip[1]], marker=mk, color=col, ms=18, mew=0, ls="none")

# panel letters
letters = [("a", 31, 44, 32, "normal"), ("b", 40, 663, 33, "bold"), ("c", 40, 1374, 33, "bold"), ("d", 40, 1988, 33, "bold"),
           ("e", 528, 32, 33, "bold"), ("f", 1298, 32, 33, "bold"), ("g", 519, 655, 33, "bold"), ("h", 1300, 655, 33, "bold"),
           ("i", 1471, 2444, 33, "bold"), ("j", 1660, 1258, 33, "bold"), ("k", 770, 1985, 33, "bold"), ("l", 805, 1520, 33, "bold"),
           ("m", 1174, 1250, 33, "bold"), ("n", 1821, 2082, 33, "bold")]
for text, x, y, size, weight in letters:
    ov.text(x, y, text, fontsize=size, fontweight=weight, ha="center", va="center", color="black")

fig.savefig("out.png", dpi=DPI, facecolor="white")
